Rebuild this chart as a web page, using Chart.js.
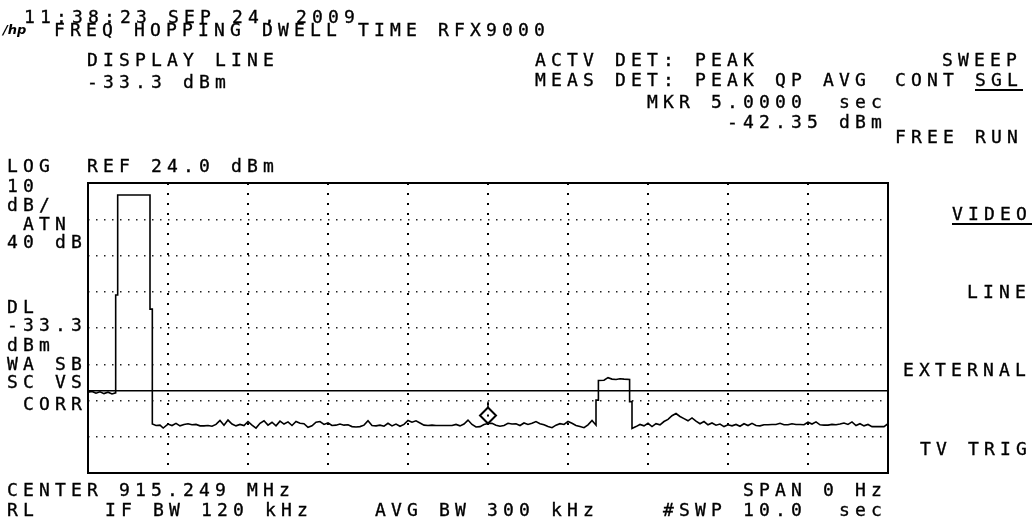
<!DOCTYPE html>
<html>
<head>
<meta charset="utf-8">
<script src="https://cdn.jsdelivr.net/npm/chart.js@4/dist/chart.umd.min.js"></script>
<style>
  html,body{margin:0;padding:0;background:#fff;}
  #wrap{position:relative;width:1034px;height:523px;overflow:hidden;}
  canvas{position:absolute;left:0;top:0;}
  .t{position:absolute;font-family:"DejaVu Sans Mono",monospace;font-size:18px;line-height:18px;letter-spacing:5.16px;white-space:pre;color:#000;-webkit-text-stroke:0.35px #000;}
  .u{text-decoration:underline;text-underline-offset:3px;text-decoration-thickness:1.5px;}
  .logo{position:absolute;left:3px;top:23px;font-family:"DejaVu Sans",sans-serif;font-style:italic;font-weight:bold;font-size:13px;line-height:14px;letter-spacing:0;}
</style>
</head>
<body>
<div id="wrap">
<canvas id="chart" width="1034" height="523"></canvas>

<div class="t" style="left:24px;top:8px">11:38:23 SEP 24, 2009</div>
<div class="logo">/hp</div>
<div class="t" style="left:54px;top:21px">FREQ HOPPING DWELL TIME RFX9000</div>
<div class="t" style="left:87px;top:51px">DISPLAY LINE</div>
<div class="t" style="left:87px;top:73px">-33.3 dBm</div>
<div class="t" style="left:535px;top:51px">ACTV DET: PEAK</div>
<div class="t" style="left:535px;top:71px">MEAS DET: PEAK QP AVG</div>
<div class="t" style="left:647px;top:93px">MKR 5.0000  sec</div>
<div class="t" style="left:727px;top:113px">-42.35 dBm</div>

<div class="t" style="left:942px;top:51px">SWEEP</div>
<div class="t" style="left:895px;top:71px">CONT <span class="u">SGL</span></div>
<div class="t" style="left:895px;top:128px">FREE RUN</div>
<div class="t" style="left:952px;top:205px"><span class="u">VIDEO</span></div>
<div class="t" style="left:967px;top:283px">LINE</div>
<div class="t" style="left:903px;top:361px">EXTERNAL</div>
<div class="t" style="left:920px;top:440px">TV TRIG</div>

<div class="t" style="left:7px;top:157px">LOG</div>
<div class="t" style="left:87px;top:157px">REF 24.0 dBm</div>
<div class="t" style="left:7px;top:177px">10</div>
<div class="t" style="left:7px;top:196px">dB/</div>
<div class="t" style="left:23px;top:215px">ATN</div>
<div class="t" style="left:7px;top:233px">40 dB</div>
<div class="t" style="left:7px;top:298px">DL</div>
<div class="t" style="left:7px;top:316px">-33.3</div>
<div class="t" style="left:7px;top:336px">dBm</div>
<div class="t" style="left:7px;top:355px">WA SB</div>
<div class="t" style="left:7px;top:373px">SC VS</div>
<div class="t" style="left:23px;top:395px">CORR</div>

<div class="t" style="left:7px;top:481px">CENTER 915.249 MHz</div>
<div class="t" style="left:743px;top:481px">SPAN 0 Hz</div>
<div class="t" style="left:7px;top:501px">RL</div>
<div class="t" style="left:105px;top:501px">IF BW 120 kHz</div>
<div class="t" style="left:375px;top:501px">AVG BW 300 kHz</div>
<div class="t" style="left:663px;top:501px">#SWP 10.0</div>
<div class="t" style="left:839px;top:501px">sec</div>
</div>

<script>
// sweep settings
const refLevel = 24;
const dbPerDiv = 10;
const divisions = 8;
const sweepTime = 10;
const displayLine = -33.3;
const markerTime = [5.0];
const markerLevel = [-42.35];

// trace (sec, dBm)
const times = [
  0, 0.05, 0.1, 0.15, 0.2, 0.25, 0.3, 0.346, 0.346, 0.371, 0.371, 0.775, 0.775, 0.804, 0.804,
  0.85, 0.9, 0.94, 1.0, 1.05, 1.1, 1.15, 1.2, 1.25, 1.3, 1.35, 1.4, 1.45, 1.5, 1.55, 1.6, 1.65,
  1.7, 1.75, 1.8, 1.85, 1.9, 1.95, 2.0, 2.05, 2.1, 2.15, 2.2, 2.25, 2.3, 2.35, 2.4, 2.45, 2.5,
  2.55, 2.6, 2.65, 2.7, 2.75, 2.8, 2.85, 2.9, 2.95, 3.0, 3.05, 3.1, 3.15, 3.2, 3.25, 3.3, 3.35,
  3.4, 3.45, 3.5, 3.55, 3.6, 3.65, 3.7, 3.75, 3.8, 3.85, 3.9, 3.95, 4.0, 4.05, 4.1, 4.15, 4.2,
  4.25, 4.3, 4.35, 4.4, 4.5, 4.55, 4.6, 4.65, 4.7, 4.75, 4.8, 4.85, 4.9, 4.95, 5.0, 5.05, 5.1,
  5.15, 5.2, 5.25, 5.3, 5.35, 5.4, 5.45, 5.5, 5.55, 5.6, 5.65, 5.7, 5.75, 5.8, 5.85, 5.9, 5.95,
  6.0, 6.05, 6.1, 6.15, 6.2, 6.25, 6.3, 6.33, 6.35, 6.35, 6.38, 6.38, 6.45, 6.5, 6.55, 6.6, 6.65,
  6.7, 6.77, 6.77, 6.8, 6.8, 6.85, 6.9, 6.95, 7.0, 7.05, 7.1, 7.15, 7.2, 7.25, 7.3, 7.35, 7.4,
  7.45, 7.5, 7.55, 7.6, 7.65, 7.7, 7.75, 7.8, 7.85, 7.9, 7.95, 8.0, 8.05, 8.1, 8.15, 8.2, 8.25,
  8.3, 8.35, 8.4, 8.45, 8.5, 8.55, 8.6, 8.65, 8.7, 8.75, 8.8, 8.85, 8.9, 8.95, 9.0, 9.05, 9.1,
  9.15, 9.2, 9.25, 9.3, 9.35, 9.4, 9.45, 9.5, 9.55, 9.6, 9.65, 9.7, 9.75, 9.8, 9.85, 9.9, 9.95, 10
];
const levels = [
  -33.7, -33.5, -34.0, -33.6, -34.1, -33.7, -34.2, -33.9, -6.9, -6.9, 20.7, 20.7, -10.8, -10.8, -42.5,
  -42.9, -42.8, -43.6, -42.5, -42.9, -42.3, -43.0, -42.6, -42.4, -42.7, -42.6, -43.0, -43.0, -42.9, -43.1, -42.6, -41.5,
  -42.8, -41.4, -42.5, -43.0, -42.6, -42.9, -41.8, -42.8, -43.6, -42.3, -41.6, -42.8, -42.0, -43.0, -41.7, -42.5, -41.9,
  -42.9, -41.8, -42.3, -42.4, -43.4, -43.0, -42.0, -41.8, -42.6, -42.2, -42.9, -42.8, -42.5, -42.8, -42.7, -43.2, -43.3,
  -43.2, -42.8, -41.6, -42.9, -43.0, -42.8, -43.1, -42.3, -43.0, -42.5, -43.1, -42.6, -41.5, -42.0, -41.6, -42.2, -42.8,
  -42.9, -42.8, -42.9, -42.9, -42.9, -42.9, -42.6, -43.0, -42.5, -41.4, -42.6, -43.3, -43.2, -42.6, -42.35, -42.3, -42.8,
  -43.1, -42.9, -42.3, -42.5, -42.4, -42.9, -42.2, -42.6, -42.3, -41.8, -42.4, -42.7, -43.2, -43.5, -42.8, -42.4, -42.6,
  -41.8, -42.3, -42.9, -43.2, -43.5, -42.7, -41.5, -42.3, -42.8, -35.9, -35.9, -30.5, -30.4, -29.7, -30.1, -30.2, -30.0,
  -30.1, -30.2, -36.3, -36.3, -43.7, -43.2, -42.6, -43.0, -42.3, -43.2, -42.4, -42.7, -41.8, -41.2, -40.2, -39.6, -40.4,
  -41.0, -41.6, -40.8, -41.7, -42.4, -41.8, -42.7, -42.2, -42.8, -42.5, -43.2, -42.7, -43.0, -42.6, -43.1, -42.4, -42.9,
  -42.3, -42.9, -43.0, -42.7, -42.7, -42.6, -42.6, -42.3, -42.7, -42.7, -42.4, -42.6, -42.6, -42.7, -42.0, -42.5, -41.9,
  -42.7, -42.8, -42.8, -42.6, -42.7, -42.5, -42.2, -42.6, -41.9, -42.9, -42.4, -43.0, -42.6, -43.2, -43.2, -43.2, -43.2, -42.4
];

const yTicks = [];
for (let k = 0; k <= divisions; k++) yTicks.push(refLevel - (divisions - k) * dbPerDiv);

const tracePts = times.map((t, i) => ({x: t, y: levels[i]}));

// solid frame round the graticule
const frame = {
  id: 'frame',
  afterDatasetsDraw(chart) {
    const {ctx, chartArea: a} = chart;
    ctx.save();
    ctx.strokeStyle = '#000';
    ctx.lineWidth = 2;
    ctx.strokeRect(a.left, a.top, a.right - a.left, a.bottom - a.top);
    ctx.restore();
  }
};

// marker diamond sits on the trace, tip down
const marker = {
  id: 'marker',
  afterDatasetsDraw(chart) {
    const {ctx, scales} = chart;
    const px = scales.x.getPixelForValue(markerTime[0]);
    const py = scales.y.getPixelForValue(markerLevel[0]);
    const r = 8, cy = py - r;
    ctx.save();
    ctx.beginPath();
    ctx.moveTo(px, cy - r);
    ctx.lineTo(px + r, cy);
    ctx.lineTo(px, cy + r);
    ctx.lineTo(px - r, cy);
    ctx.closePath();
    ctx.fillStyle = '#fff';
    ctx.fill();
    ctx.strokeStyle = '#000';
    ctx.lineWidth = 2;
    ctx.stroke();
    ctx.fillStyle = '#000';
    ctx.fillRect(px - 1, cy - 1, 2, 2);
    ctx.beginPath();
    ctx.moveTo(px, cy - r);
    ctx.lineTo(px, cy - r - 6);
    ctx.lineWidth = 1.5;
    ctx.stroke();
    ctx.restore();
  }
};

new Chart(document.getElementById('chart'), {
  type: 'line',
  data: {
    datasets: [
      {data: tracePts, borderColor: '#000', borderWidth: 1.6, pointRadius: 0, tension: 0, fill: false},
      {data: [{x: 0, y: displayLine}, {x: sweepTime, y: displayLine}], borderColor: '#000', borderWidth: 1.6, pointRadius: 0, fill: false}
    ]
  },
  options: {
    responsive: false,
    animation: false,
    events: [],
    layout: {padding: {left: 88, top: 183, right: 146, bottom: 50}},
    plugins: {legend: {display: false}, tooltip: {enabled: false}},
    scales: {
      x: {
        type: 'linear', min: 0, max: sweepTime,
        ticks: {display: false, stepSize: 1},
        grid: {color: '#000', lineWidth: 2, drawTicks: false},
        border: {display: false, dash: [2, 8]}
      },
      y: {
        type: 'linear', min: yTicks[0], max: refLevel,
        afterBuildTicks: s => { s.ticks = yTicks.map(v => ({value: v})); },
        ticks: {display: false},
        grid: {color: '#222', lineWidth: 1.5, drawTicks: false},
        border: {display: false, dash: [1.5, 6.5]}
      }
    }
  },
  plugins: [frame, marker]
});
</script>
</body>
</html>
